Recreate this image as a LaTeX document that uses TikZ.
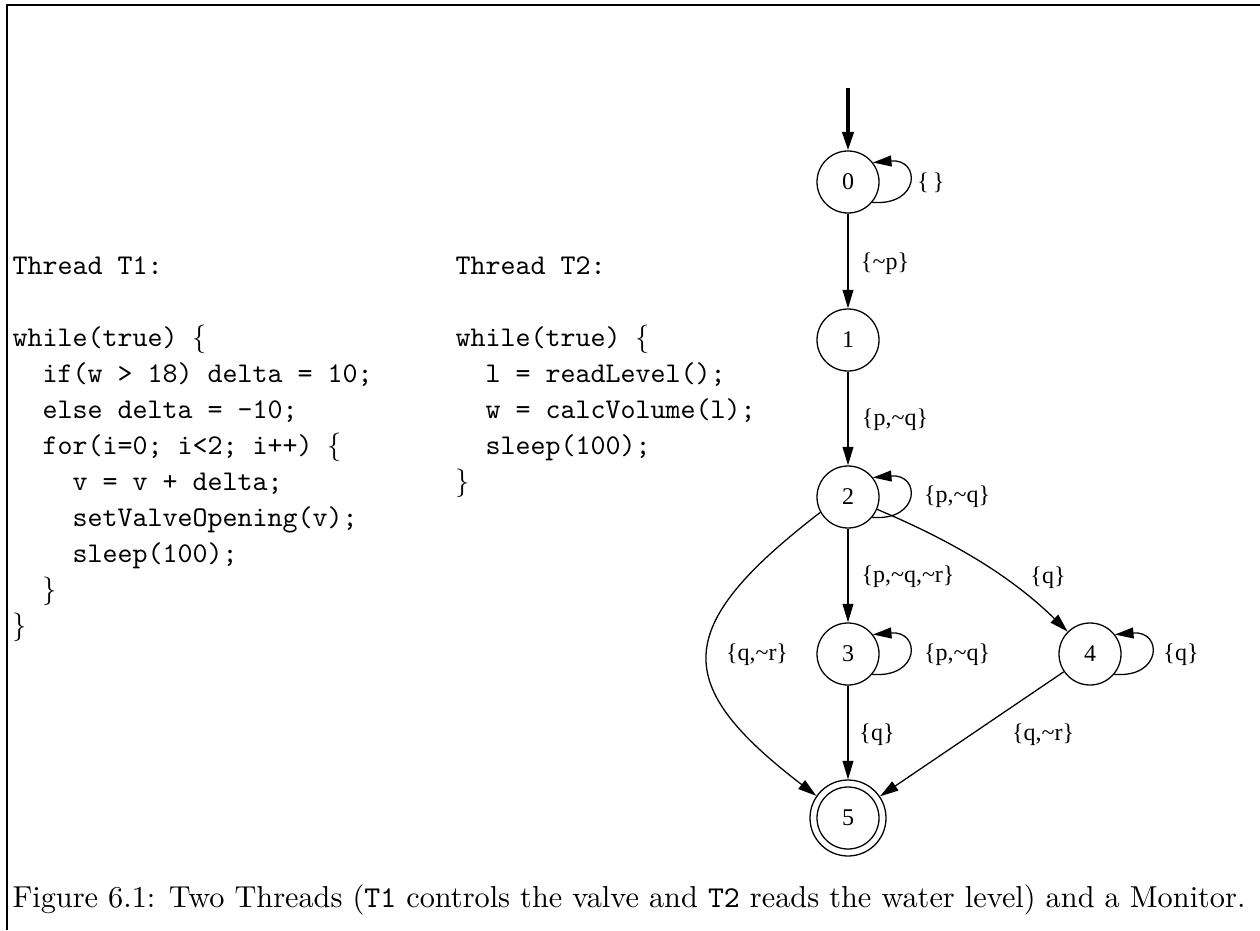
\documentclass[tikz,border=0pt]{standalone}
\usepackage{graphicx}
\usepackage{fontspec}
\newfontfamily\graphfont{Liberation Serif}
\usetikzlibrary{arrows.meta}
\begin{document}
\begin{tikzpicture}[x=0.35pt,y=-0.35pt,
  code/.style={anchor=base west,inner sep=0pt,font=\ttfamily\fontsize{10}{12}\selectfont},
  state/.style={circle,draw,line width=0.45pt,minimum size=21.7pt,inner sep=0pt,
    font=\graphfont\fontsize{8.4}{9}\selectfont},
  final/.style={state,minimum size=26.6pt},
  lbl/.style={inner sep=0pt,font=\graphfont\fontsize{8.4}{9}\selectfont},
  edge/.style={line width=0.45pt,-{Triangle[length=6.5pt,width=3.8pt]}},
  initial/.style={line width=1.1pt,-{Triangle[length=6.5pt,width=4pt]}}]
\useasboundingbox (0,0) rectangle (1260,930);

% frame
\draw[line width=0.7pt] (7,930) -- (7,5) -- (1260,5);

% thread T1
\node[code] (a1) at (12,274) {Thread T1:};
\node[code] (a2) at (12,346) {while(true) $\{$};
\node[code] (a3) at (12,382) {\phantom{xx}if(w > 18) delta = 10;};
\node[code] (a4) at (12,418) {\phantom{xx}else delta = -10;};
\node[code] (a5) at (12,454) {\phantom{xx}for(i=0; i<2; i++) $\{$};
\node[code] (a6) at (12,490) {\phantom{xxxx}v = v + delta;};
\node[code] (a7) at (12,526) {\phantom{xxxx}setValveOpening(v);};
\node[code] (a8) at (12,562) {\phantom{xxxx}sleep(100);};
\node[code] (a9) at (12,598) {\phantom{xx}$\}$};
\node[code] (a10) at (12,634) {$\}$};

% thread T2
\node[code] (b1) at (455,274) {Thread T2:};
\node[code] (b2) at (455,346) {while(true) $\{$};
\node[code] (b3) at (455,382) {\phantom{xx}l = readLevel();};
\node[code] (b4) at (455,418) {\phantom{xx}w = calcVolume(l);};
\node[code] (b5) at (455,454) {\phantom{xx}sleep(100);};
\node[code] (b6) at (455,490) {$\}$};

% monitor automaton
\node[state] (n0) at (848,182) {0};
\node[state] (n1) at (848,340) {1};
\node[state] (n2) at (848,497) {2};
\node[state] (n3) at (848,654) {3};
\node[state] (n4) at (1090,654) {4};
\node[final] (n5) at (848,818) {5};
\draw[line width=0.45pt] (n5.center) circle[radius=10.85pt];

\coordinate (start) at (848,88);
\draw[initial] (start) -- (n0);

\draw[edge] (n0) -- (n1);
\draw[edge] (n1) -- (n2);
\draw[edge] (n2) -- (n3);
\draw[edge] (n3) -- (n5);
\draw[edge] (n4) -- (n5);
\draw[edge] (n2.-23) .. controls (950,540) and (1010,575) .. (n4.135);
\draw[edge] (n2.-151) .. controls (670,628) and (672,685) .. (n5.145);

% self loops
\draw[edge] (n0.-40) .. controls +(48,4) and +(48,-4) .. (n0.38);
\draw[edge] (n2.-40) .. controls +(48,4) and +(48,-4) .. (n2.38);
\draw[edge] (n3.-40) .. controls +(48,4) and +(48,-4) .. (n3.38);
\draw[edge] (n4.-40) .. controls +(48,4) and +(48,-4) .. (n4.38);

% transition labels
\node[lbl] (l00) at (931,183) {\{\,\}};
\node[lbl] (l01) at (885,264) {\{\textasciitilde p\}};
\node[lbl] (l12) at (895,420) {\{p,\textasciitilde q\}};
\node[lbl] (l22) at (957,497) {\{p,\textasciitilde q\}};
\node[lbl] (l23) at (908,577) {\{p,\textasciitilde q,\textasciitilde r\}};
\node[lbl] (l24) at (1048,578) {\{q\}};
\node[lbl] (l25) at (757,655) {\{q,\textasciitilde r\}};
\node[lbl] (l33) at (957,655) {\{p,\textasciitilde q\}};
\node[lbl] (l44) at (1181,655) {\{q\}};
\node[lbl] (l35) at (877,735) {\{q\}};
\node[lbl] (l45) at (1043,735) {\{q,\textasciitilde r\}};

% caption, stretched to the full line width
\node[anchor=base west,inner sep=0pt,font=\fontsize{10}{12}\selectfont] (cap) at (12,907)
  {\resizebox{431.5pt}{!}{Figure 6.1: Two Threads (\texttt{T1} controls the valve and \texttt{T2} reads the water level) and a Monitor.}};
\end{tikzpicture}
\end{document}
